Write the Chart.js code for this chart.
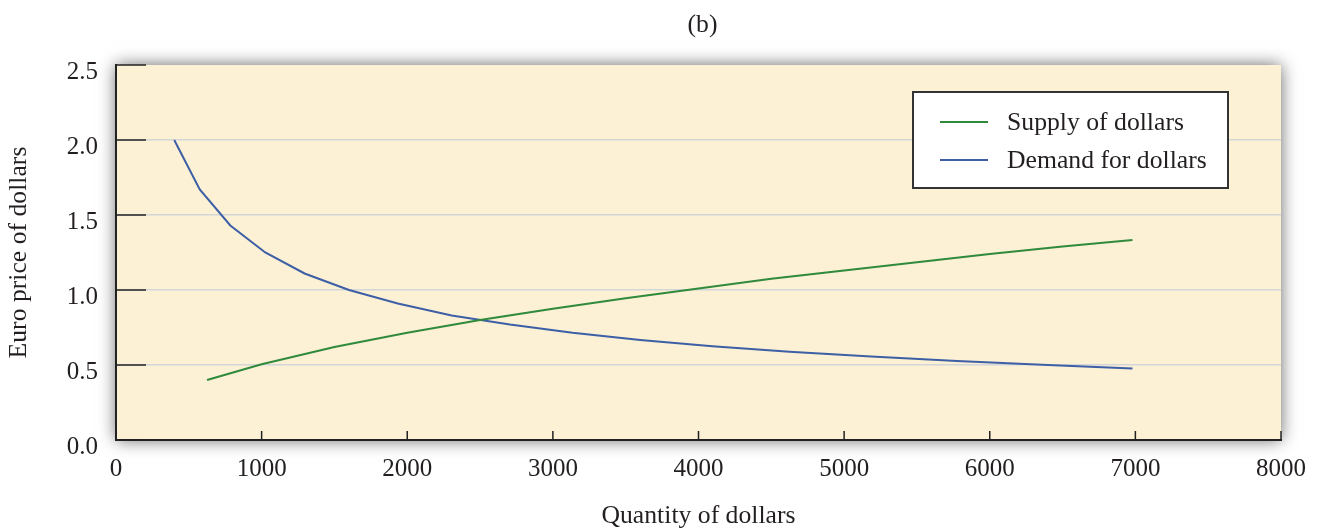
<!DOCTYPE html>
<html>
<head>
<meta charset="utf-8">
<script src="https://cdn.jsdelivr.net/npm/chart.js@4.4.1/dist/chart.umd.min.js"></script>
<style>
html, body { margin: 0; padding: 0; background: #fff; }
</style>
</head>
<body>
<canvas id="chart" width="1317" height="529"></canvas>
<script>
// values
const supplyQuantity = [625, 1000, 1500, 2000, 2500, 3000, 3500, 4000, 4500, 5000, 5500, 6000, 6500, 6980]
const supplyPrice = [0.40, 0.505, 0.62, 0.715, 0.80, 0.875, 0.945, 1.01, 1.075, 1.13, 1.185, 1.24, 1.29, 1.333]
const demandQuantity = [400, 575, 785, 1025, 1295, 1600, 1935, 2305, 2705, 3135, 3600, 4095, 4625, 5185, 5775, 6400, 6980]
const demandPrice = [2.0, 1.67, 1.43, 1.25, 1.11, 1.0, 0.91, 0.83, 0.77, 0.715, 0.667, 0.625, 0.588, 0.556, 0.527, 0.50, 0.476]
const xTicks = [0, 1000, 2000, 3000, 4000, 5000, 6000, 7000, 8000]
const yTicks = [0.0, 0.5, 1.0, 1.5, 2.0, 2.5]

const serif = '"Liberation Serif", "Times New Roman", serif'
const textColor = '#231f20'
const plotBackground = '#fcf0d5'
const gridColor = '#d3d6d8'
const labelSize = 25.7

function toPoints(xs, ys) {
    return xs.map((x, i) => ({ x: x, y: ys[i] }))
}

// shaded plot panel behind everything, plus the panel label above it
const panelPlugin = {
    id: 'panel',
    beforeDraw(chart) {
        const { ctx, chartArea: a } = chart
        ctx.save()
        ctx.shadowColor = 'rgba(0,0,0,0.6)'
        ctx.shadowBlur = 16
        ctx.fillStyle = plotBackground
        ctx.fillRect(a.left, a.top, a.width, a.height)
        ctx.restore()

        ctx.save()
        ctx.fillStyle = textColor
        ctx.font = labelSize + 'px ' + serif
        ctx.textAlign = 'center'
        ctx.textBaseline = 'middle'
        ctx.fillText('(b)', (a.left + a.right) / 2 + 4, 25)
        ctx.restore()
    }
}

// inward tick marks and the boxed legend
const decorPlugin = {
    id: 'decor',
    afterDatasetsDraw(chart) {
        const { ctx, chartArea: a, scales } = chart
        ctx.save()
        ctx.strokeStyle = '#222'
        ctx.lineWidth = 1.5
        yTicks.forEach(v => {
            const y = scales.y.getPixelForValue(v)
            ctx.beginPath()
            ctx.moveTo(a.left, y)
            ctx.lineTo(a.left + 30, y)
            ctx.stroke()
        })
        xTicks.forEach(v => {
            const x = scales.x.getPixelForValue(v)
            ctx.beginPath()
            ctx.moveTo(x, a.bottom)
            ctx.lineTo(x, a.bottom - 9)
            ctx.stroke()
        })

        // legend box
        const box = { left: 913, top: 92, width: 315, height: 96 }
        ctx.fillStyle = '#ffffff'
        ctx.fillRect(box.left, box.top, box.width, box.height)
        ctx.strokeStyle = '#333'
        ctx.lineWidth = 2
        ctx.strokeRect(box.left, box.top, box.width, box.height)
        ctx.font = labelSize + 'px ' + serif
        ctx.textBaseline = 'middle'
        ctx.textAlign = 'left'
        chart.data.datasets.forEach((ds, i) => {
            const y = box.top + 30 + i * 38
            ctx.strokeStyle = ds.borderColor
            ctx.lineWidth = 2
            ctx.beginPath()
            ctx.moveTo(box.left + 27, y)
            ctx.lineTo(box.left + 75, y)
            ctx.stroke()
            ctx.fillStyle = textColor
            ctx.fillText(ds.label, box.left + 94, y + 1)
        })
        ctx.restore()
    }
}

const chart = new Chart(document.getElementById('chart'), {
    type: 'line',
    plugins: [panelPlugin, decorPlugin],
    data: {
        datasets: [
            {
                label: 'Supply of dollars',
                data: toPoints(supplyQuantity, supplyPrice),
                borderColor: '#2f8a3c',
                borderWidth: 2,
                pointRadius: 0,
                tension: 0,
                fill: false
            },
            {
                label: 'Demand for dollars',
                data: toPoints(demandQuantity, demandPrice),
                borderColor: '#3d5fa6',
                borderWidth: 2,
                pointRadius: 0,
                tension: 0,
                fill: false
            }
        ]
    },
    options: {
        responsive: false,
        animation: false,
        events: [],
        layout: {
            padding: { left: 0, right: 36, top: 65, bottom: 0 }
        },
        plugins: {
            legend: { display: false },
            tooltip: { enabled: false },
            title: { display: false }
        },
        scales: {
            x: {
                type: 'linear',
                min: 0,
                max: 8000,
                afterBuildTicks: scale => {
                    scale.ticks = xTicks.map(v => ({ value: v }))
                },
                afterFit: scale => {
                    scale.height = 89
                    scale.paddingLeft = 0
                    scale.paddingRight = 0
                },
                grid: { display: false, drawTicks: false },
                border: { display: true, color: '#222', width: 2 },
                ticks: {
                    color: textColor,
                    padding: 14,
                    maxRotation: 0,
                    font: { family: serif, size: 25 },
                    callback: v => String(v)
                },
                title: {
                    display: true,
                    text: 'Quantity of dollars',
                    color: textColor,
                    font: { family: serif, size: labelSize, lineHeight: 1 },
                    padding: { top: 0, bottom: 0 }
                }
            },
            y: {
                type: 'linear',
                min: 0,
                max: 2.5,
                afterBuildTicks: scale => {
                    scale.ticks = yTicks.map(v => ({ value: v }))
                },
                afterFit: scale => {
                    scale.width = 116
                },
                grid: {
                    drawTicks: false,
                    lineWidth: 1.5,
                    color: ctx => (ctx.tick && (ctx.tick.value === 0 || ctx.tick.value === 2.5)) ? 'rgba(0,0,0,0)' : gridColor
                },
                border: { display: true, color: '#222', width: 2 },
                ticks: {
                    color: textColor,
                    padding: 18,
                    labelOffset: 7,
                    font: { family: serif, size: 25 },
                    callback: v => v.toFixed(1)
                },
                title: {
                    display: true,
                    text: 'Euro price of dollars',
                    color: textColor,
                    font: { family: serif, size: labelSize, lineHeight: 1 },
                    padding: { top: 6, bottom: 0 }
                }
            }
        }
    }
})
</script>
</body>
</html>
